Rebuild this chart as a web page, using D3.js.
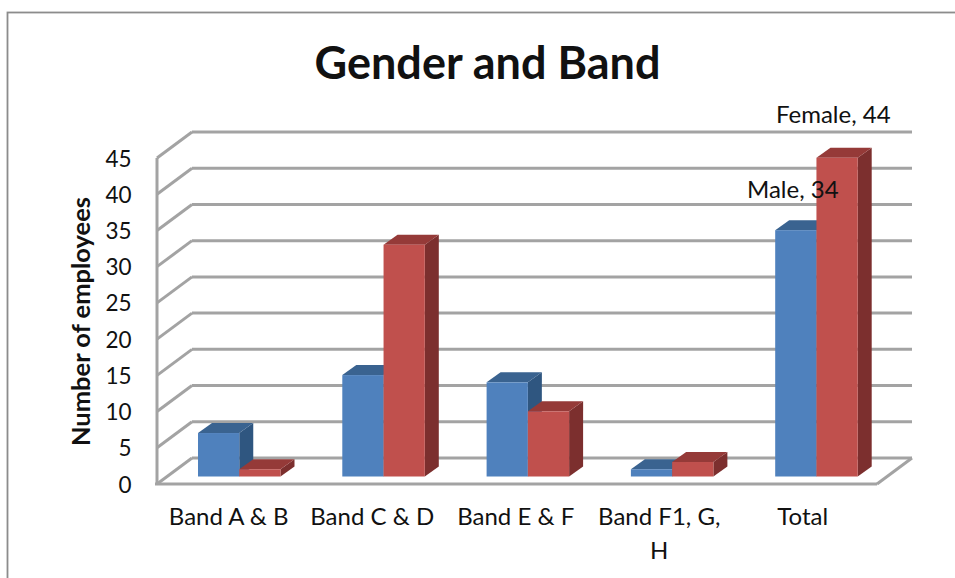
<!DOCTYPE html>
<html><head><meta charset="utf-8">
<script src="https://cdn.jsdelivr.net/npm/d3@7"></script>
<style>html,body{margin:0;padding:0;background:#fff}svg{display:block}text{font-family:Lato,"Open Sans",sans-serif;fill:#111}</style>
</head><body><svg id="c" width="955" height="578"></svg>
<script>
const categories = ["Band A & B","Band C & D","Band E & F","Band F1, G, H","Total"];
const categoryLines = [["Band A & B"],["Band C & D"],["Band E & F"],["Band F1, G,","H"],["Total"]];
const maleValues = [6,14,13,1,34];
const femaleValues = [1,32,9,2,44];
const tickValues = [0,5,10,15,20,25,30,35,40,45];
const titleText = "Gender and Band";
const yAxisTitle = "Number of employees";

const svg = d3.select("#c");
const W=955,H=578;
const depthX=35, depthY=-26, barDX=14, barDY=-10;
const y = d3.scaleLinear().domain([0,45]).range([484,158]);
const x0 = d3.scaleBand().domain(categories).range([156.5,878]);
const x1 = d3.scaleBand().domain(["Male","Female"]).range([41.5,124]);
const xLabel = d3.scaleBand().domain(categories).range([157,874.5]);
const barBaseShift = -7.5;
const wallColor="#a3a3a3";

svg.append("rect").attr("x",7.5).attr("y",12.5).attr("width",W+20).attr("height",H).attr("fill","#fff").attr("stroke","#8c8c8c").attr("stroke-width",1.8);

const walls=svg.append("g").attr("fill","none").attr("stroke",wallColor).attr("stroke-width",3);
const xL=157,xR=877;
walls.selectAll("line.h").data(tickValues).join("line").attr("class","h")
 .attr("x1",xL+depthX).attr("x2",xR+depthX).attr("y1",d=>y(d)+depthY).attr("y2",d=>y(d)+depthY);
walls.selectAll("line.d").data(tickValues).join("line").attr("class","d")
 .attr("x1",xL).attr("x2",xL+depthX).attr("y1",d=>y(d)).attr("y2",d=>y(d)+depthY);
walls.append("line").attr("x1",xL).attr("x2",xL).attr("y1",y(0)+1).attr("y2",y(45));
walls.append("line").attr("x1",xL-2).attr("x2",xR).attr("y1",y(0)).attr("y2",y(0));
walls.append("line").attr("x1",xR).attr("x2",xR+depthX).attr("y1",y(0)).attr("y2",y(0)+depthY);

function drawBar(g,cat,series,val,cols){
  const xa=x0(cat)+x1(series), w=x1.bandwidth();
  const yb=y(0)+barBaseShift, yt=y(val)+barBaseShift;
  const pts=a=>a.map(p=>p.join(",")).join(" ");
  g.append("polygon").attr("points",pts([[xa+w,yb],[xa+w+barDX,yb+barDY],[xa+w+barDX,yt+barDY],[xa+w,yt]])).attr("fill",cols.side);
  g.append("polygon").attr("points",pts([[xa,yt],[xa+barDX,yt+barDY],[xa+w+barDX,yt+barDY],[xa+w,yt]])).attr("fill",cols.top);
  g.append("rect").attr("x",xa).attr("y",yt).attr("width",w).attr("height",yb-yt).attr("fill",cols.front);
}
const blue={front:"#4f81bd",top:"#3a6390",side:"#2f5680"};
const red={front:"#c0504d",top:"#953a38",side:"#7c2f2e"};
const bars=svg.append("g");
categories.forEach((c,i)=>{
  drawBar(bars,c,"Male",maleValues[i],blue);
  drawBar(bars,c,"Female",femaleValues[i],red);
});

svg.append("g").selectAll("text").data(tickValues).join("text")
 .attr("x",131.5).attr("y",d=>y(d)+8.5).attr("text-anchor","end").attr("font-size",22.5).text(d=>d);

const cl=svg.append("g").selectAll("g").data(categories).join("g");
cl.each(function(c,i){
  const cx=xLabel(c)+xLabel.bandwidth()/2;
  categoryLines[i].forEach((t,j)=>{
    d3.select(this).append("text").attr("x",cx).attr("y",525+j*34).attr("text-anchor","middle").attr("font-size",24).text(t);
  });
});

svg.append("text").attr("x",487.5).attr("y",79).attr("text-anchor","middle").attr("font-size",45).attr("font-weight",700).text(titleText);
svg.append("text").attr("transform","translate(90,321.5) rotate(-90)").attr("text-anchor","middle").attr("font-size",25.5).attr("font-weight",700).text(yAxisTitle);
svg.append("text").attr("x",776).attr("y",123).attr("font-size",24).text("Female, "+femaleValues[4]);
svg.append("text").attr("x",747).attr("y",198).attr("font-size",24).text("Male, "+maleValues[4]);
</script></body></html>
